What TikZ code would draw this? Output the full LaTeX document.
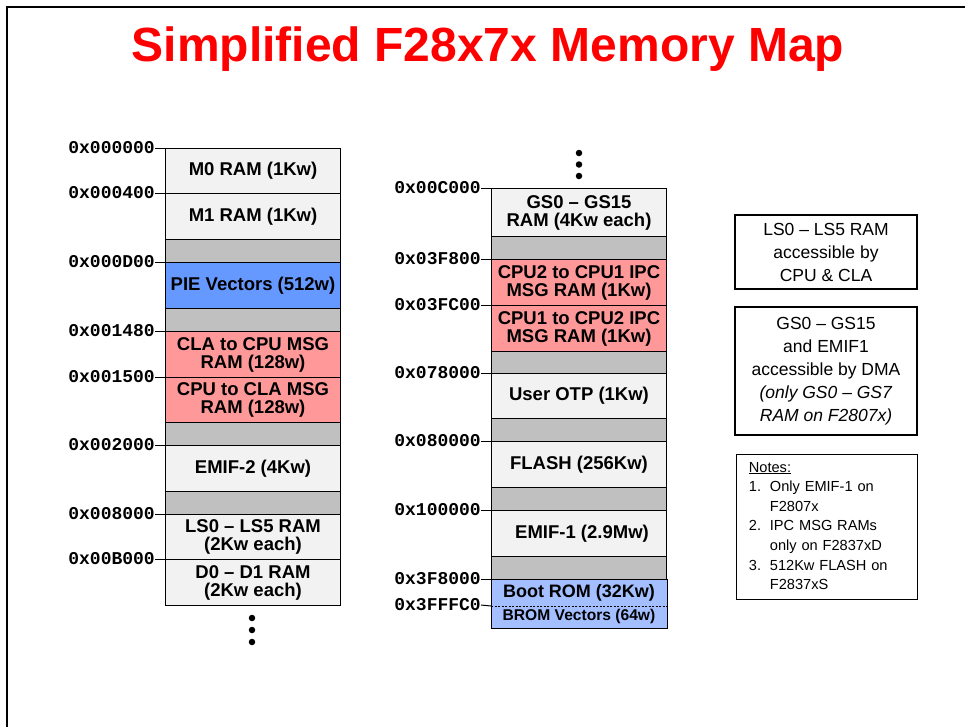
\documentclass[tikz,border=0pt]{standalone}
\usepackage{fontspec}
\setmainfont{Liberation Sans}
\setmonofont{Liberation Mono}
\definecolor{memgray}{HTML}{C0C0C0}
\definecolor{memlight}{HTML}{F2F2F2}
\definecolor{memred}{HTML}{FF9999}
\definecolor{memblue}{HTML}{6699FF}
\definecolor{romblue}{HTML}{A3BFFF}
\definecolor{titlered}{HTML}{FF0000}
\newcommand\memfont{\fontsize{18.5}{18}\selectfont\bfseries}
\newcommand\addrfont{\fontsize{18}{18}\selectfont\ttfamily\bfseries}
\newcommand\titlefont{\fontsize{48}{48}\selectfont\bfseries}
\newcommand\infofont{\fontsize{17.5}{23}\selectfont}
\newcommand\notefont{\fontsize{14.6}{19.6}\selectfont}
\tikzset{
  mem/.style={draw=black, line width=1pt, minimum width=175pt, inner sep=0pt,
    anchor=north west, align=center, font=\memfont, fill=memlight},
  gapbox/.style={mem, fill=memgray},
  redbox/.style={mem, fill=memred},
  bluebox/.style={mem, fill=memblue},
  rombox/.style={mem, fill=romblue, draw=none},
  addr/.style={font=\addrfont, inner sep=0pt, anchor=east},
  tick/.style={line width=1pt},
  infobox/.style={draw=black, line width=1.6pt, align=center, font=\infofont,
    minimum width=182pt, inner sep=0pt},
  dotnode/.style={circle, fill=black, inner sep=0pt, minimum size=6.5pt},
}
\begin{document}
\begin{tikzpicture}[x=1pt, y=-1pt]
\useasboundingbox (0,0) rectangle (965,726);
\fill[white] (0,0) rectangle (965,726);
% slide frame
\draw[line width=2pt] (7,727) -- (7,7) -- (966,7);
% title
\node[font=\titlefont, text=titlered, anchor=base, inner sep=0pt] (title) at (488,61) {Simplified F28x7x Memory Map};

% ---------- left column ----------
\node[mem, minimum height=45pt] (m0) at (165,148) {M0 RAM (1Kw)};
\node[mem, minimum height=46pt] (m1) at (165,193) {M1 RAM (1Kw)};
\node[gapbox, minimum height=23pt] (g1) at (165,239) {};
\node[bluebox, minimum height=46pt] (pie) at (165,262) {PIE Vectors (512w)};
\node[gapbox, minimum height=23pt] (g2) at (165,308) {};
\node[redbox, minimum height=46pt] (cla2cpu) at (165,331) {CLA to CPU MSG\\RAM (128w)};
\node[redbox, minimum height=45pt] (cpu2cla) at (165,377) {CPU to CLA MSG\\RAM (128w)};
\node[gapbox, minimum height=23pt] (g3) at (165,422) {};
\node[mem, minimum height=46pt] (emif2) at (165,445) {EMIF-2 (4Kw)};
\node[gapbox, minimum height=23pt] (g4) at (165,491) {};
\node[mem, minimum height=45pt] (ls) at (165,514) {LS0 -- LS5 RAM\\(2Kw each)};
\node[mem, minimum height=46pt] (d0) at (165,559) {D0 -- D1 RAM\\(2Kw each)};

\node[addr] (a0) at (155,148) {0x000000};
\node[addr] (a1) at (155,193) {0x000400};
\node[addr] (a2) at (155,262) {0x000D00};
\node[addr] (a3) at (155,331) {0x001480};
\node[addr] (a4) at (155,377) {0x001500};
\node[addr] (a5) at (155,445) {0x002000};
\node[addr] (a6) at (155,514) {0x008000};
\node[addr] (a7) at (155,559) {0x00B000};
\draw[tick] (a0.east) -- (m0.north west);
\draw[tick] (a1.east) -- (m1.north west);
\draw[tick] (a2.east) -- (pie.north west);
\draw[tick] (a3.east) -- (cla2cpu.north west);
\draw[tick] (a4.east) -- (cpu2cla.north west);
\draw[tick] (a5.east) -- (emif2.north west);
\draw[tick] (a6.east) -- (ls.north west);
\draw[tick] (a7.east) -- (d0.north west);

\node[dotnode] (ld1) at (252,618) {};
\node[dotnode] (ld2) at (252,630) {};
\node[dotnode] (ld3) at (252,642) {};

% ---------- middle column ----------
\node[mem, minimum height=48pt] (gs) at (491,188) {GS0 -- GS15\\RAM (4Kw each)};
\node[gapbox, minimum height=23pt] (g5) at (491,236) {};
\node[redbox, minimum height=46pt] (ipc21) at (491,259) {CPU2 to CPU1 IPC\\MSG RAM (1Kw)};
\node[redbox, minimum height=46pt] (ipc12) at (491,305) {CPU1 to CPU2 IPC\\MSG RAM (1Kw)};
\node[gapbox, minimum height=22pt] (g6) at (491,351) {};
\node[mem, minimum height=45pt] (otp) at (491,373) {User OTP (1Kw)};
\node[gapbox, minimum height=23pt] (g7) at (491,418) {};
\node[mem, minimum height=46pt] (flash) at (491,441) {FLASH (256Kw)};
\node[gapbox, minimum height=23pt] (g8) at (491,487) {};
\node[mem, minimum height=46pt] (emif1) at (491,510) {\hspace*{6pt}EMIF-1 (2.9Mw)};
\node[gapbox, minimum height=23pt] (g9) at (491,556) {};
\node[rombox, minimum height=26pt, font=\fontsize{18}{18}\selectfont\bfseries] (boot) at (491,579) {Boot ROM (32Kw)};
\node[rombox, minimum height=22pt, font=\fontsize{15.6}{15.6}\selectfont\bfseries] (brom) at (491,605) {BROM Vectors (64w)};
\draw[line width=1pt] (boot.north west) rectangle (brom.south east);
\draw[dashed, line width=0.7pt, dash pattern=on 2pt off 1.5pt] (boot.south west) -- (boot.south east);

\node[addr] (b0) at (481,188) {0x00C000};
\node[addr] (b1) at (481,259) {0x03F800};
\node[addr] (b2) at (481,305) {0x03FC00};
\node[addr] (b3) at (481,373) {0x078000};
\node[addr] (b4) at (481,441) {0x080000};
\node[addr] (b5) at (481,510) {0x100000};
\node[addr] (b6) at (481,579) {0x3F8000};
\node[addr] (b7) at (481,605) {0x3FFFC0};
\draw[tick] (b0.east) -- (gs.north west);
\draw[tick] (b1.east) -- (ipc21.north west);
\draw[tick] (b2.east) -- (ipc12.north west);
\draw[tick] (b3.east) -- (otp.north west);
\draw[tick] (b4.east) -- (flash.north west);
\draw[tick] (b5.east) -- (emif1.north west);
\draw[tick] (b6.east) -- (boot.north west);
\draw[tick] (b7.east) -- (boot.south west);

\node[dotnode] (md1) at (579,153) {};
\node[dotnode] (md2) at (579,164.5) {};
\node[dotnode] (md3) at (579,176) {};

% ---------- right boxes ----------
\node[infobox, minimum height=74pt] (lsinfo) at (826,252) {LS0 -- LS5 RAM\\accessible by\\CPU \& CLA};
\node[infobox, minimum height=128pt] (gsinfo) at (826,371) {GS0 -- GS15\\and EMIF1\\accessible by DMA\\\textit{(only GS0 -- GS7}\\\textit{RAM on F2807x)}};
\node[draw=black, line width=0.8pt, anchor=north west, text width=156pt, inner xsep=12.5pt,
      inner ysep=0pt, minimum height=145pt, align=left, font=\notefont] (notes) at (736,454)
{\begin{tabular}{@{}p{21pt}@{}l@{}}
\multicolumn{2}{@{}l@{}}{\underline{Notes:}}\\
1. & Only EMIF-1 on\\
 & F2807x\\
2. & IPC MSG RAMs\\
 & only on F2837xD\\
3. & 512Kw FLASH on\\
 & F2837xS
\end{tabular}};
\end{tikzpicture}
\end{document}
